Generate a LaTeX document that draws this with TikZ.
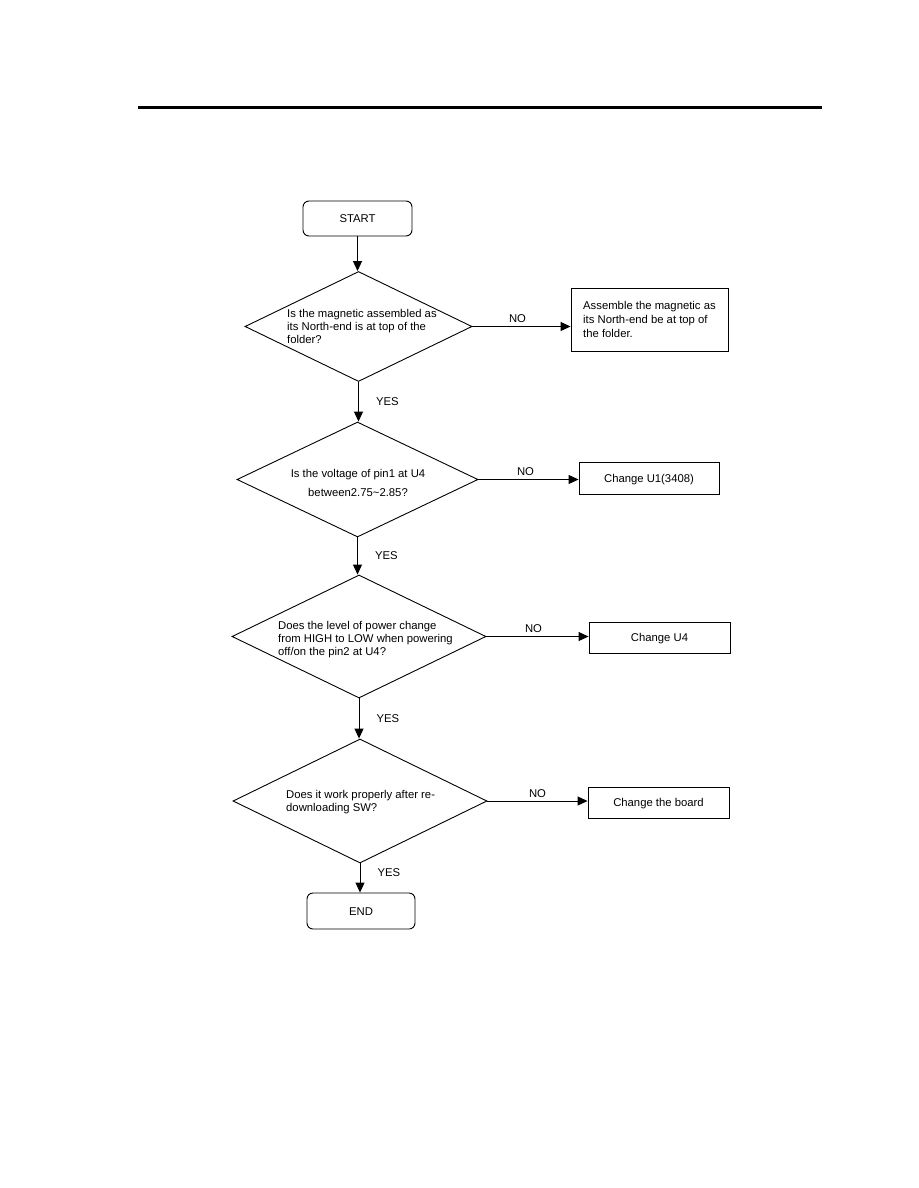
\documentclass[tikz,border=0pt]{standalone}
\usepackage{fontspec}
\setmainfont{Liberation Sans}
\usetikzlibrary{shapes.geometric,arrows.meta}
\begin{document}
\begin{tikzpicture}[x=1pt,y=-1pt,
  every node/.style={font=\fontsize{11.3}{13}\selectfont},
  dia/.style={draw,diamond,inner sep=0pt,line width=0.9pt},
  box/.style={draw,rectangle,inner sep=0pt,line width=0.9pt,text height=8pt,text depth=0pt},
  term/.style={draw,rectangle,rounded corners=6pt,inner sep=0pt,line width=0.9pt,text height=8pt,text depth=0pt},
  arr/.style={line width=1pt,-{Triangle[length=10pt,width=9pt]}},
  lbl/.style={inner sep=1pt}]
\useasboundingbox (0,0) rectangle (918,1188);
% top rule
\coordinate (r1) at (138,108);
\coordinate (r2) at (822,108);
\draw[line width=3pt] (r1) -- (r2);
% terminals
\node[term,minimum width=109pt,minimum height=35pt] (start) at (357.5,218.5) {START};
\node[term,minimum width=108pt,minimum height=36pt] (end) at (361,911) {END};
% diamonds
\node[dia,minimum width=227pt,minimum height=110pt] (d1) at (358.5,326.5) {};
\node[dia,minimum width=241pt,minimum height=115pt] (d2) at (357.5,479.5) {};
\node[dia,minimum width=254pt,minimum height=123pt] (d3) at (359,636.5) {};
\node[dia,minimum width=254pt,minimum height=124pt] (d4) at (360,801) {};
% diamond texts
\node[anchor=west,align=left,inner sep=0pt] (t1) at (287,326) {Is the magnetic assembled as\\its North-end is at top of the\\folder?};
\node[align=center,inner sep=0pt,font=\fontsize{11.3}{19}\selectfont] (t2) at (358,482.5) {Is the voltage of pin1 at U4\\between2.75\textasciitilde2.85?};
\node[anchor=west,align=left,inner sep=0pt] (t3) at (278,640) {Does the level of power change\\from HIGH to LOW when powering\\off/on the pin2 at U4?};
\node[anchor=west,align=left,inner sep=0pt] (t4) at (286,802) {Does it work properly after re-\\downloading SW?};
% action boxes
\node[box,minimum width=157pt,minimum height=63pt] (b1) at (649.5,319.5) {};
\node[anchor=west,align=left,inner sep=0pt,font=\fontsize{11.3}{14}\selectfont] (b1t) at (583,319) {Assemble the magnetic as\\its North-end be at top of\\the folder.};
\node[box,minimum width=140pt,minimum height=32pt] (b2) at (649,478) {Change U1(3408)};
\node[box,minimum width=141pt,minimum height=31pt] (b3) at (659.5,637.5) {Change U4};
\node[box,minimum width=141pt,minimum height=31pt] (b4) at (658.5,802.5) {Change the board};
% vertical connectors
\draw[arr] (start.south) -- (start.south |- d1.north);
\draw[arr] (d1.south) -- (d1.south |- d2.north) node[lbl,midway,anchor=west,xshift=16pt] (y1) {YES};
\draw[arr] (d2.south) -- (d2.south |- d3.north) node[lbl,midway,anchor=west,xshift=16pt] (y2) {YES};
\draw[arr] (d3.south) -- (d3.south |- d4.north) node[lbl,midway,anchor=west,xshift=16pt] (y3) {YES};
\draw[arr] (d4.south) -- (d4.south |- end.north) node[lbl,midway,anchor=west,xshift=16pt,yshift=5pt] (y4) {YES};
% horizontal connectors
\draw[arr] (d1.east) -- (d1.east -| b1.west) node[lbl,midway,above,xshift=-4pt,yshift=2pt] (n1) {NO};
\draw[arr] (d2.east) -- (d2.east -| b2.west) node[lbl,midway,above,xshift=-3pt,yshift=2pt] (n2) {NO};
\draw[arr] (d3.east) -- (d3.east -| b3.west) node[lbl,midway,above,xshift=-4pt,yshift=2pt] (n3) {NO};
\draw[arr] (d4.east) -- (d4.east -| b4.west) node[lbl,midway,above,yshift=2pt] (n4) {NO};
\end{tikzpicture}
\end{document}
